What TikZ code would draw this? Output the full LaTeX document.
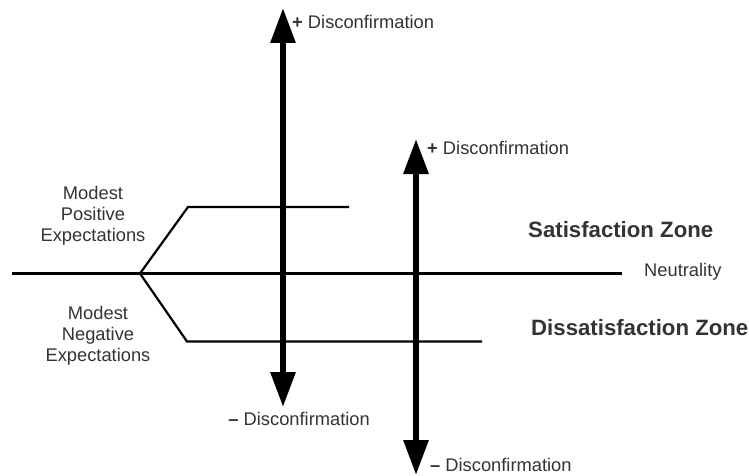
\documentclass[tikz,border=0pt]{standalone}
\usepackage{fontspec}
\setmainfont{Liberation Sans}
\usetikzlibrary{arrows.meta}
\definecolor{labelgray}{HTML}{333333}
\tikzset{
  thinline/.style={line width=2.2pt, line join=miter},
  axis/.style={line width=6pt, {Triangle[length=35pt,width=24pt]}-{Triangle[length=35pt,width=24pt]}},
  lbl/.style={inner sep=0pt, text=labelgray, font=\fontsize{18.3}{21}\selectfont},
  zone/.style={inner sep=0pt, text=labelgray, font=\fontsize{22.2}{26}\selectfont\bfseries},
}
\begin{document}
\begin{tikzpicture}[x=1pt, y=-1pt]
  \useasboundingbox (0,0) rectangle (749,476);

  % neutrality baseline and the expectation fork
  \coordinate (nl) at (12,273.5);
  \coordinate (nr) at (622,273.5);
  \coordinate (fork) at (140,273.5);
  \coordinate (pc) at (188,207);
  \coordinate (pe) at (349,207);
  \coordinate (nc) at (187,341.5);
  \coordinate (ne) at (482,341.5);
  \draw[thinline] (nl) -- (nr);
  \draw[thinline] (pe) -- (pc) -- (fork) -- (nc) -- (ne);

  % disconfirmation axes
  \coordinate (a1t) at (283,8);
  \coordinate (a1b) at (283,407);
  \coordinate (a2t) at (416,139);
  \coordinate (a2b) at (416,475);
  \draw[axis] (a1b) -- (a1t);
  \draw[axis] (a2b) -- (a2t);

  % labels
  \node[lbl, anchor=west] (d1p) at (292,22) {\textbf{+} Disconfirmation};
  \node[lbl, anchor=east] (d1m) at (370,419) {\textbf{–} Disconfirmation};
  \node[lbl, anchor=west] (d2p) at (427,148) {\textbf{+} Disconfirmation};
  \node[lbl, anchor=west] (d2m) at (430,465) {\textbf{–} Disconfirmation};

  \node[lbl, align=center] (mpe) at (93,216) {Modest\\Positive\\Expectations};
  \node[lbl, align=center] (mne) at (98,336) {Modest\\Negative\\Expectations};

  \node[zone, anchor=west] (sz) at (528,230) {Satisfaction Zone};
  \node[zone, anchor=west] (dz) at (531,328) {Dissatisfaction Zone};
  \node[lbl, anchor=west] (neu) at (644,272) {Neutrality};
\end{tikzpicture}
\end{document}
